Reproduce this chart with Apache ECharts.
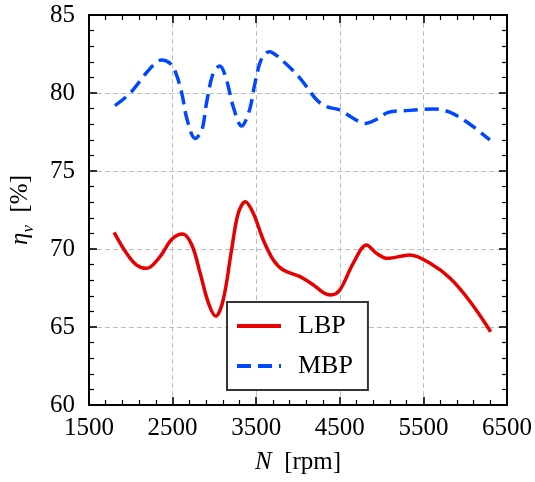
<!DOCTYPE html>
<html>
<head>
<meta charset="utf-8">
<script src="https://cdn.jsdelivr.net/npm/echarts@6/dist/echarts.min.js"></script>
<style>
  html, body { margin: 0; padding: 0; background: #fff; }
  #holder { width: 535px; height: 482px; }
</style>
</head>
<body>
<div id="holder"></div>
<script>
// engine speed [rpm] and volumetric efficiency [%]
var lbpN   = [1800, 1950, 2070, 2190, 2350, 2490, 2620, 2730, 2830, 2930, 3015, 3105, 3205, 3285, 3370, 3465, 3585, 3705, 3825, 4025, 4185, 4305, 4390, 4500, 4660, 4820, 4940, 5070, 5340, 5580, 5820, 6060, 6305]
var lbpEta = [71.07, 69.72, 68.97, 68.76, 69.51, 70.62, 70.96, 70.26, 68.44, 66.52, 65.7, 66.73, 69.94, 72.29, 73.03, 72.29, 70.58, 69.3, 68.65, 68.23, 67.69, 67.2, 67.05, 67.37, 69.08, 70.26, 69.72, 69.4, 69.62, 69.08, 68.12, 66.62, 64.7]

var mbpN   = [1810, 1990, 2150, 2270, 2370, 2470, 2540, 2610, 2675, 2770, 2850, 2905, 2985, 3065, 3145, 3225, 3325, 3420, 3485, 3565, 3655, 3805, 4025, 4225, 4345, 4500, 4660, 4800, 4940, 5080, 5300, 5620, 5800, 6015, 6295]
var mbpEta = [79.19, 79.98, 81.05, 81.79, 82.12, 81.9, 81.26, 79.98, 78.27, 77.09, 77.63, 79.34, 81.26, 81.73, 80.83, 79.12, 77.88, 78.91, 80.62, 82.22, 82.65, 82.12, 80.94, 79.55, 79.12, 78.91, 78.38, 78.05, 78.31, 78.76, 78.87, 78.97, 78.8, 78.16, 76.99]

var xTicks = [1500, 6500, 1000]   // min, max, step
var yTicks = [60, 85, 5]

var font = 'Liberation Serif'

function pairs(xs, ys) {
  var ret = []
  xs.forEach((x, i) => {
    ret.push([x, ys[i]])
  })
  return ret
}

function makeAxis(range, pos, labels) {
  return {
    type: 'value',
    position: pos,
    min: range[0],
    max: range[1],
    interval: range[2],
    axisLine: { show: true, onZero: false, lineStyle: { color: '#000', width: 2 } },
    axisTick: { show: true, inside: true, length: 8, lineStyle: { color: '#000', width: 1.6 } },
    minorTick: { show: true, splitNumber: 5, length: 5, lineStyle: { color: '#000', width: 1.2 } },
    axisLabel: { show: labels, color: '#000', fontFamily: font, fontSize: 25, formatter: v => String(v) },
    splitLine: { show: labels, lineStyle: { color: '#bdbdbd', width: 1, type: [5, 3] } }
  }
}

var x0 = makeAxis(xTicks, 'bottom', true)
x0.axisLabel.margin = 11
x0.name = '{i|N}  [rpm]'
x0.nameLocation = 'middle'
x0.nameGap = 45
x0.nameTextStyle = {
  color: '#000', fontFamily: font, fontSize: 25,
  rich: { i: { fontFamily: font, fontSize: 25, fontStyle: 'italic', color: '#000' } }
}

var y0 = makeAxis(yTicks, 'left', true)
y0.axisLabel.margin = 14
y0.name = '{e|η}{s|v}  [%]'
y0.nameLocation = 'middle'
y0.nameGap = 52
y0.nameTextStyle = {
  color: '#000', fontFamily: font, fontSize: 25,
  rich: {
    e: { fontFamily: font, fontSize: 25, fontStyle: 'italic', color: '#000' },
    s: { fontFamily: font, fontSize: 17, fontStyle: 'italic', color: '#000', padding: [16, 0, 0, 0] }
  }
}

var chart = echarts.init(document.getElementById('holder'))

chart.setOption({
  animation: false,
  backgroundColor: '#fff',
  grid: { left: 89, right: 28, top: 15, bottom: 77 },
  xAxis: [x0, makeAxis(xTicks, 'top', false)],
  yAxis: [y0, makeAxis(yTicks, 'right', false)],
  legend: {
    data: ['LBP', 'MBP'],
    orient: 'vertical',
    left: 227,
    top: 302,
    padding: [11, 15, 11, 8],
    itemWidth: 44,
    itemHeight: 14,
    itemGap: 14,
    itemStyle: { opacity: 0 },
    lineStyle: { width: 4 },
    backgroundColor: '#fff',
    borderColor: '#333',
    borderWidth: 2,
    borderRadius: 0,
    textStyle: { color: '#000', fontFamily: font, fontSize: 26, padding: [0, 0, 0, 12] }
  },
  series: [
    {
      name: 'LBP',
      type: 'line',
      xAxisIndex: 0,
      yAxisIndex: 0,
      data: pairs(lbpN, lbpEta),
      smooth: 0.35,
      symbol: 'none',
      color: '#e60000',
      lineStyle: { color: '#e60000', width: 3.5 }
    },
    {
      name: 'MBP',
      type: 'line',
      xAxisIndex: 0,
      yAxisIndex: 0,
      data: pairs(mbpN, mbpEta),
      smooth: 0.35,
      symbol: 'none',
      color: '#0048ff',
      lineStyle: { color: '#0048ff', width: 3.5, type: [14, 7] }
    }
  ]
})
</script>
</body>
</html>
